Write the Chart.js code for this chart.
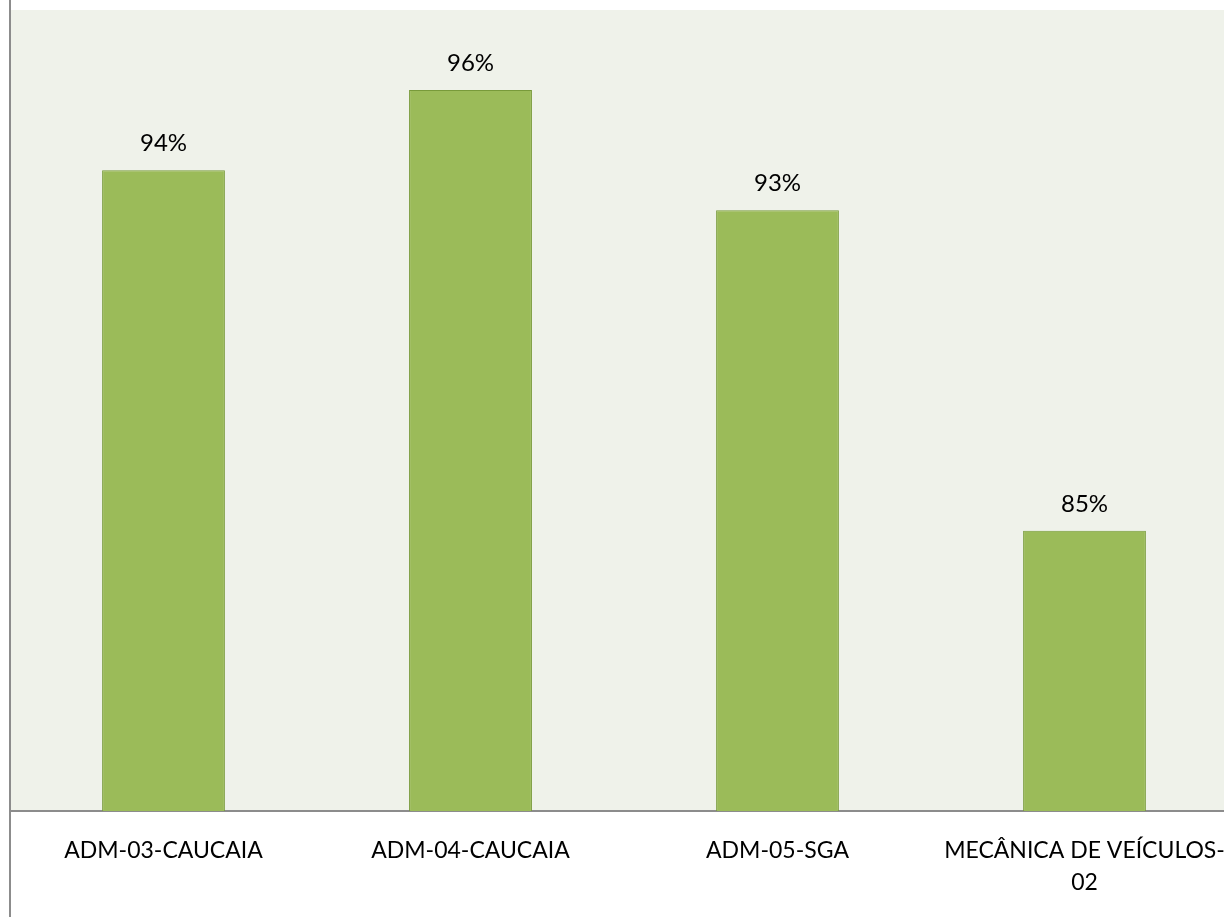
<!DOCTYPE html>
<html>
<head>
<meta charset="utf-8">
<script src="https://cdn.jsdelivr.net/npm/chart.js@4.4.0/dist/chart.umd.min.js"></script>
<style>
  html, body { margin: 0; padding: 0; background: #fff; overflow: hidden; }
  #grafico { position: absolute; left: 0; top: 0; }
</style>
</head>
<body>
<canvas id="grafico" width="1224" height="917"></canvas>
<script>
// dados do grafico
var turmas = ['ADM-03-CAUCAIA', 'ADM-04-CAUCAIA', 'ADM-05-SGA', ['MECÂNICA DE VEÍCULOS-', '02']];
var percentuais = [94, 96, 93, 85];
var rotulos = ['94%', '96%', '93%', '85%'];
var escalaMin = 78;
var escalaMax = 98;

var fonte = 'Lato, "Open Sans", sans-serif';
var excessoDireita = 14; // o original esta cortado na direita

// estica a area do grafico para alem da borda direita
// (o chart.js encolhe a area por causa do ultimo rotulo, aqui desfaz isso)
var areaCortada = {
    id: 'areaCortada',
    afterLayout: function (chart) {
        var a = chart.chartArea;
        a.right = chart.width + excessoDireita;
        a.width = a.right - a.left;
        var x = chart.scales.x;
        x.right = a.right;
        x.width = a.width;
        x.configure();
    }
};

// fundo da area do grafico + borda da esquerda
var fundoPlot = {
    id: 'fundoPlot',
    beforeDraw: function (chart) {
        var a = chart.chartArea;
        var ctx = chart.ctx;
        ctx.save();
        ctx.fillStyle = '#eff2ea';
        ctx.fillRect(a.left, a.top, a.right - a.left, a.bottom - a.top);
        ctx.restore();
    },
    afterDraw: function (chart) {
        var ctx = chart.ctx;
        ctx.save();
        ctx.strokeStyle = '#8c8c8c';
        ctx.lineWidth = 2;
        ctx.beginPath();
        ctx.moveTo(10, 0);
        ctx.lineTo(10, chart.height);
        ctx.stroke();
        ctx.restore();
    }
};

// rotulos em cima das barras
var rotulosBarras = {
    id: 'rotulosBarras',
    afterDatasetsDraw: function (chart) {
        var ctx = chart.ctx;
        var meta = chart.getDatasetMeta(0);
        ctx.save();
        ctx.font = '24px ' + fonte;
        ctx.fillStyle = '#000';
        ctx.textAlign = 'center';
        ctx.textBaseline = 'alphabetic';
        meta.data.forEach(function (barra, i) {
            ctx.fillText(rotulos[i], barra.x, barra.y - 19);
        });
        ctx.restore();
    }
};

new Chart(document.getElementById('grafico'), {
    type: 'bar',
    data: {
        labels: turmas,
        datasets: [{
            data: percentuais,
            backgroundColor: '#9bbb59',
            borderColor: '#789a3a',
            borderWidth: 1,
            categoryPercentage: 0.8,
            barPercentage: 0.5
        }]
    },
    options: {
        responsive: false,
        maintainAspectRatio: false,
        devicePixelRatio: 1,
        animation: false,
        layout: { padding: { left: 10, top: 10, right: 0, bottom: 0 } },
        plugins: {
            legend: { display: false },
            tooltip: { enabled: false }
        },
        scales: {
            y: {
                display: false,
                min: escalaMin,
                max: escalaMax
            },
            x: {
                grid: { display: false, drawTicks: false },
                border: { display: true, color: '#8c8c8c', width: 2 },
                ticks: {
                    color: '#000',
                    font: { family: fonte, size: 23, lineHeight: 1.4 },
                    padding: 23,
                    maxRotation: 0,
                    autoSkip: false
                },
                afterFit: function (escala) { escala.height = 106; }
            }
        }
    },
    plugins: [areaCortada, fundoPlot, rotulosBarras]
});
</script>
</body>
</html>
